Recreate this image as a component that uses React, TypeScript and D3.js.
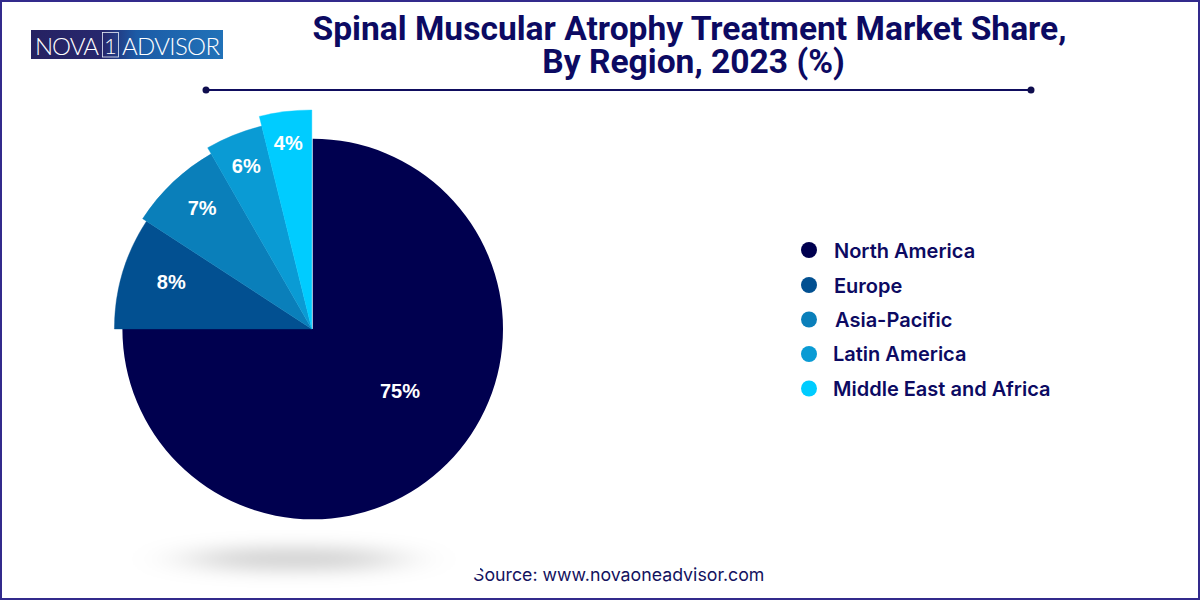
import React from "react";
import * as d3 from "d3";

const regions = ["North America", "Europe", "Asia-Pacific", "Latin America", "Middle East and Africa"];
const shareLabels = ["75%", "8%", "7%", "6%", "4%"];
// slice weights as drawn in the picture (the picture's wedges are not strictly proportional)
const drawnWeights = [75, 9.2, 7.5, 4.45, 3.85];
const colors = ["#00004f", "#025091", "#0a7fba", "#0a9bd4", "#00ccff"];
const radii = [190.3, 197.4, 202, 209, 219];
const labelRadii = [106.7, 149, 164, 176, 187.6];
const labelAngles = [125.1, 288.4, 317.6, 337.8, 352.5];
const legendY = [250, 285, 319.5, 354, 388.5];
const legendTextY = [251, 286, 319.5, 354, 388.5];
const legendX = [834, 834, 835, 833, 833];
const titleLines = ["Spinal Muscular Atrophy Treatment Market Share,", "By Region, 2023 (%)"];
const titleX = [689.5, 693.5];
const source = "Source: www.novaoneadvisor.com";

const cx = 312.7;
const wedgeCx = 311.8;
const cy = 329;
const navy = "#0c0a62";

export default function App() {
  const pie = d3
    .pie<number>()
    .value((d) => d)
    .sort(null);
  const arcs = pie(drawnWeights);
  const arcPath = (a: d3.PieArcDatum<number>, i: number) =>
    d3.arc<d3.PieArcDatum<number>>().innerRadius(0).outerRadius(radii[i])(a) as string;
  const toRad = d3.scaleLinear().domain([0, 360]).range([0, Math.PI * 2]);
  return (
    <svg
      width={1200}
      height={600}
      viewBox="0 0 1200 600"
      style={{ position: "fixed", left: 0, top: 0, background: "#fff" }}
    >
      <defs>
        <linearGradient id="logoGrad" x1="0" x2="1" y1="0" y2="0">
          <stop offset="0" stopColor="#262262" />
          <stop offset="0.38" stopColor="#27286e" />
          <stop offset="0.55" stopColor="#1c5ba6" />
          <stop offset="1" stopColor="#2172b8" />
        </linearGradient>
        <filter id="blur" x="-60%" y="-300%" width="220%" height="700%">
          <feGaussianBlur stdDeviation="30 9" />
        </filter>
      </defs>
      <rect x={0} y={0} width={1200} height={600} fill="#fff" />
      <rect x={1} y={1} width={1198} height={598} fill="none" stroke="#322a8c" strokeWidth={2} />

      <rect x={31} y={30} width={192} height={29} fill="url(#logoGrad)" />
      <text x={35} y={55} fontFamily="Lato" fontWeight={300} fontSize={24} fill="#fff" textLength={64}>
        NOVA
      </text>
      <rect x={102.5} y={32.5} width={16} height={24.5} fill="none" stroke="#e8eef8" strokeWidth={0.8} />
      <text x={110.5} y={54} fontFamily="Lato" fontWeight={300} fontSize={22} fill="#fff" textAnchor="middle">
        1
      </text>
      <text x={122} y={55} fontFamily="Lato" fontWeight={300} fontSize={24} fill="#fff" textLength={98}>
        ADVISOR
      </text>

      {titleLines.map((t, i) => (
        <text
          key={t}
          x={titleX[i]}
          y={39.5 + i * 33}
          textAnchor="middle"
          fontFamily="Roboto"
          fontWeight={700}
          fontSize={33.6}
          fill={navy}
        >
          {t}
        </text>
      ))}
      <line x1={206} x2={1031} y1={90} y2={90} stroke="#0f0d5e" strokeWidth={2} />
      <circle cx={206} cy={90} r={3.5} fill="#0f0d4e" />
      <circle cx={1031} cy={90} r={3.5} fill="#0f0d4e" />

      <ellipse cx={294} cy={559} rx={110} ry={11} fill="#000" fillOpacity={0.19} filter="url(#blur)" />

      {arcs.map((a, i) => (
        <path
          key={regions[i]}
          transform={`translate(${i === 0 ? cx : wedgeCx},${cy})`}
          d={arcPath(a, i)}
          fill={colors[i]}
          stroke={i === 0 ? "none" : colors[i]}
          strokeWidth={0.4}
        />
      ))}
      <g transform={`translate(${cx},${cy})`}>
        {shareLabels.map((lab, i) => (
          <text
            key={lab}
            x={Math.sin(toRad(labelAngles[i])) * labelRadii[i]}
            y={-Math.cos(toRad(labelAngles[i])) * labelRadii[i]}
            dy="0.36em"
            textAnchor="middle"
            fontFamily="Liberation Sans"
            fontWeight={700}
            fontSize={20}
            fill="#fff"
          >
            {lab}
          </text>
        ))}
      </g>

      {regions.map((r, i) => (
        <g key={r}>
          <circle cx={809} cy={legendY[i]} r={8} fill={colors[i]} />
          <text x={legendX[i]} y={legendTextY[i]} dy="0.36em" fontFamily="Inter" fontWeight={600} fontSize={20} fill={navy}>
            {r}
          </text>
        </g>
      ))}

      <text x={473} y={581} fontFamily="Inter" fontWeight={400} fontSize={17.75} fill="#14125e">
        {source}
      </text>
      <rect x={470} y={566} width={10} height={8} fill="#fff" />
    </svg>
  );
}
